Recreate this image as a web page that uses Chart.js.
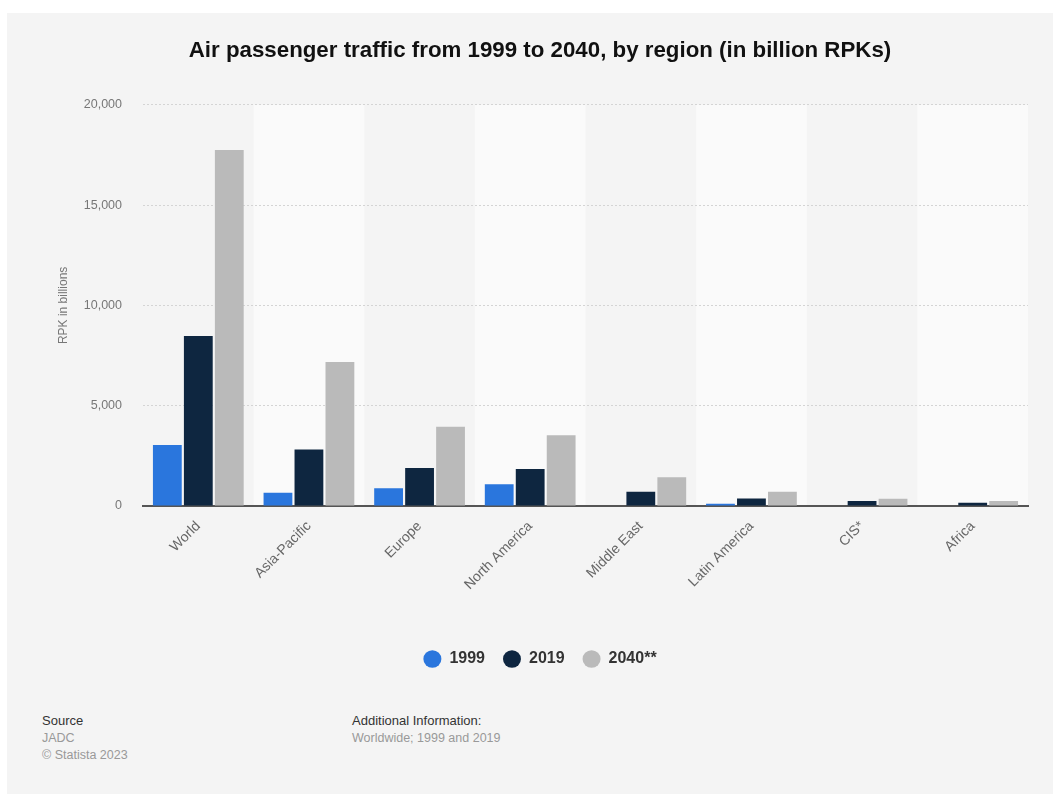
<!DOCTYPE html>
<html>
<head>
<meta charset="utf-8">
<script src="https://cdn.jsdelivr.net/npm/chart.js@4.4.0/dist/chart.umd.min.js"></script>
<style>
  html, body { margin: 0; padding: 0; background: #fff; }
  body { width: 1057px; height: 794px; position: relative; overflow: hidden; font-family: "Liberation Sans", Arial, sans-serif; }
  #card { position: absolute; left: 7px; top: 13px; width: 1046px; height: 781px; background: #f4f4f4; }
  #wrap { position: absolute; left: 0; top: 0; width: 1046px; height: 677px; }
  .foot { position: absolute; font-size: 12.5px; line-height: 17px; color: #999; }
  .foot b { font-weight: normal; color: #333; font-size: 13px; }
</style>
</head>
<body>
<div id="card">
  <div id="wrap"><canvas id="trafficChart"></canvas></div>
  <div class="foot" style="left:35px; top:699px;"><b>Source</b><br>JADC<br>© Statista 2023</div>
  <div class="foot" style="left:345px; top:699px;"><b>Additional Information:</b><br>Worldwide; 1999 and 2019</div>
</div>
<script>
// regions and RPK values (billions)
const regions = ['World', 'Asia-Pacific', 'Europe', 'North America', 'Middle East', 'Latin America', 'CIS*', 'Africa'];
const rpk1999 = [3040, 660, 880, 1080, 30, 110, 20, 20];
const rpk2019 = [8470, 2820, 1900, 1840, 710, 380, 250, 165];
const rpk2040 = [17740, 7180, 3950, 3530, 1430, 710, 360, 250];
const seriesNames = ['1999', '2019', '2040**'];
const yTicks = [0, 5000, 10000, 15000, 20000];

// alternating column shading behind each category
const bandPlugin = {
    id: 'bands',
    beforeDraw(chart) {
        const { ctx, chartArea, scales } = chart;
        const x = scales.x;
        const step = (chartArea.right - chartArea.left) / regions.length;
        ctx.save();
        regions.forEach(function(r, i) {
            if (i % 2 === 1) {
                const cx = x.getPixelForValue(i);
                ctx.fillStyle = '#fafafa';
                ctx.fillRect(cx - step / 2, chartArea.top, step, chartArea.bottom - chartArea.top);
            }
        });
        ctx.restore();
    }
};

const trafficChart = new Chart(document.getElementById('trafficChart'), {
    type: 'bar',
    data: {
        labels: regions,
        datasets: [
            { label: seriesNames[0], data: rpk1999, backgroundColor: '#2a76dd' },
            { label: seriesNames[1], data: rpk2019, backgroundColor: '#0e2640' },
            { label: seriesNames[2], data: rpk2040, backgroundColor: '#bababa' }
        ]
    },
    plugins: [bandPlugin],
    options: {
        responsive: true,
        maintainAspectRatio: false,
        animation: false,
        categoryPercentage: 0.84,
        barPercentage: 0.93,
        layout: { padding: { left: 45, right: 25, top: 0, bottom: 13 } },
        plugins: {
            title: {
                display: true,
                text: 'Air passenger traffic from 1999 to 2040, by region (in billion RPKs)',
                color: '#111',
                font: { family: 'Liberation Sans', size: 22.3, weight: 'bold' },
                padding: { top: 24, bottom: 41 }
            },
            legend: {
                position: 'bottom',
                labels: {
                    usePointStyle: true,
                    pointStyle: 'circle',
                    boxHeight: 12.5,
                    pointStyleWidth: 18,
                    padding: 18,
                    color: '#333',
                    font: { family: 'Liberation Sans', size: 16, weight: 'bold' }
                }
            },
            tooltip: { enabled: false }
        },
        scales: {
            x: {
                grid: { display: false },
                border: { display: true, color: '#555', width: 2 },
                ticks: {
                    minRotation: 45,
                    maxRotation: 45,
                    padding: 4,
                    color: '#666',
                    font: { family: 'Liberation Sans', size: 14 }
                },
                afterFit(scale) { scale.height = 127; }
            },
            y: {
                min: 0,
                max: 20000,
                afterBuildTicks(scale) { scale.ticks = yTicks.map(v => ({ value: v })); },
                grid: {
                    drawTicks: false,
                    color: ctx => ctx.tick && ctx.tick.value === 0 ? 'rgba(0,0,0,0)' : '#d4d4d4',
                    lineWidth: 1
                },
                border: { display: false, dash: [2, 2] },
                ticks: {
                    padding: 21,
                    color: '#777',
                    font: { family: 'Liberation Sans', size: 12.5 },
                    callback: v => v.toLocaleString('en-US')
                },
                title: {
                    display: true,
                    text: 'RPK in billions',
                    color: '#777',
                    font: { family: 'Liberation Sans', size: 12 }
                },
                afterFit(scale) { scale.width = 91; }
            }
        }
    }
});
</script>
</body>
</html>
